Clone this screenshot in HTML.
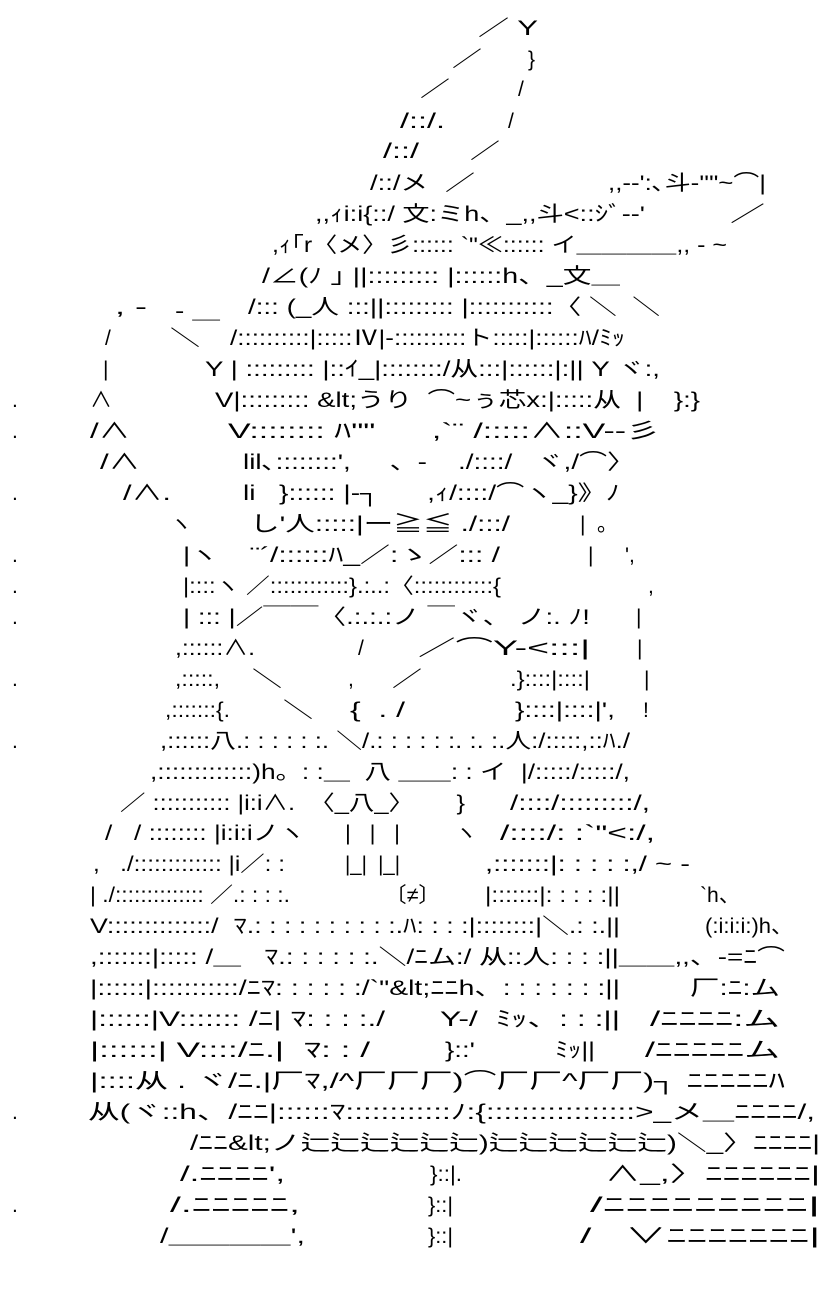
<!DOCTYPE html>
<html><head><meta charset="utf-8"><style>
html,body{margin:0;padding:0;background:#fff;}
svg{display:block}
text{font-family:"Liberation Sans","Noto Sans CJK JP",sans-serif;font-size:21px;fill:#000;white-space:pre;}
</style></head><body>
<svg width="835" height="1291" xmlns="http://www.w3.org/2000/svg" xml:space="preserve">
<g>
<text x="478" y="35" textLength="60" lengthAdjust="spacingAndGlyphs">／ Y</text>
<text x="452" y="66" textLength="30" lengthAdjust="spacingAndGlyphs">／</text>
<text x="528" y="66">}</text>
<text x="420" y="96" textLength="30" lengthAdjust="spacingAndGlyphs">／</text>
<text x="518" y="96">/</text>
<text x="400" y="128" textLength="45" lengthAdjust="spacingAndGlyphs">/::/.</text>
<text x="508" y="128">/</text>
<text x="383" y="158" textLength="36" lengthAdjust="spacingAndGlyphs">/::/</text>
<text x="470" y="158" textLength="30" lengthAdjust="spacingAndGlyphs">／</text>
<text x="370" y="190" textLength="58" lengthAdjust="spacingAndGlyphs">/::/メ</text>
<text x="445" y="190" textLength="30" lengthAdjust="spacingAndGlyphs">／</text>
<text x="608" y="190" textLength="158" lengthAdjust="spacingAndGlyphs">,,-‐':､斗-''"~⌒|</text>
<text x="315" y="221" textLength="330" lengthAdjust="spacingAndGlyphs">,,ｨi:i{::/ 文:ミh、_,,斗&lt;::ｼﾞ-‐'</text>
<text x="730" y="221" textLength="35" lengthAdjust="spacingAndGlyphs">／</text>
<text x="272" y="252" textLength="455" lengthAdjust="spacingAndGlyphs">,ｨ｢r〈メ〉彡:::::: `"≪:::::: イ＿＿＿＿,, - ~</text>
<text x="262" y="283" textLength="358" lengthAdjust="spacingAndGlyphs">/∠(ﾉ ｣ ||::::::::: |::::::h、_文＿</text>
<text x="115" y="314" textLength="32" lengthAdjust="spacingAndGlyphs">, -</text>
<text x="175" y="318" textLength="45" lengthAdjust="spacingAndGlyphs">- ＿</text>
<text x="248" y="314" textLength="412" lengthAdjust="spacingAndGlyphs">/::: (_人 :::||::::::::: |:::::::::::〈 ＼  ＼</text>
<text x="105" y="345">/</text>
<text x="170" y="345" textLength="30" lengthAdjust="spacingAndGlyphs">＼</text>
<text x="230" y="345" textLength="395" lengthAdjust="spacingAndGlyphs">/::::::::::|:::::Ⅳ|-::::::::::ト:::::|::::::ﾊ/ﾐｯ</text>
<text x="103" y="376">|</text>
<text x="205" y="376" textLength="455" lengthAdjust="spacingAndGlyphs">Y | ::::::::: |::ｲ_|::::::::/从:::|::::::|:|| Y ヾ:,</text>
<text x="12" y="407">.</text>
<text x="90" y="407" textLength="22" lengthAdjust="spacingAndGlyphs">∧</text>
<text x="215" y="407" textLength="485" lengthAdjust="spacingAndGlyphs">V|::::::::: &amp;lt;うり  ⌒~ぅ芯x:|:::::从  |    }:}</text>
<text x="12" y="438">.</text>
<text x="90" y="438" textLength="40" lengthAdjust="spacingAndGlyphs">/∧</text>
<text x="228" y="438" textLength="432" lengthAdjust="spacingAndGlyphs">V:::::::: ﾊ""      ,`¨ /:::::∧::V--彡</text>
<text x="100" y="469" textLength="40" lengthAdjust="spacingAndGlyphs">/∧</text>
<text x="243" y="469" textLength="392" lengthAdjust="spacingAndGlyphs">lil､::::::::',     、-    ./::::/   ヾ,/⌒〉</text>
<text x="12" y="500">.</text>
<text x="123" y="500" textLength="48" lengthAdjust="spacingAndGlyphs">/∧.</text>
<text x="243" y="500" textLength="377" lengthAdjust="spacingAndGlyphs">li   }:::::: |-┐      ,ｨ/::::/⌒ヽ_}》ﾉ</text>
<text x="170" y="531" textLength="22" lengthAdjust="spacingAndGlyphs">ヽ</text>
<text x="250" y="531" textLength="260" lengthAdjust="spacingAndGlyphs">し'人:::::|ー≧≦ ./:::/</text>
<text x="580" y="531">|  ｡</text>
<text x="12" y="562">.</text>
<text x="183" y="562" textLength="35" lengthAdjust="spacingAndGlyphs">|ヽ</text>
<text x="250" y="562" textLength="250" lengthAdjust="spacingAndGlyphs">¨´/::::::ﾊ_／:ゝ／::: /</text>
<text x="588" y="562">|</text>
<text x="625" y="562">',</text>
<text x="12" y="593">.</text>
<text x="183" y="593" textLength="318" lengthAdjust="spacingAndGlyphs">|::::ヽ ／::::::::::::}.:..:〈::::::::::::{</text>
<text x="648" y="593">,</text>
<text x="12" y="624">.</text>
<text x="183" y="624" textLength="407" lengthAdjust="spacingAndGlyphs">| ::: |／￣￣〈.:.:.:ノ ￣ヾ、 ノ:. ﾉ!</text>
<text x="636" y="624">|</text>
<text x="175" y="655" textLength="80" lengthAdjust="spacingAndGlyphs">,::::::∧.</text>
<text x="358" y="655">/</text>
<text x="418" y="655" textLength="172" lengthAdjust="spacingAndGlyphs">／⌒Y-&lt;:::|</text>
<text x="637" y="655">|</text>
<text x="12" y="686">.</text>
<text x="175" y="686" textLength="45" lengthAdjust="spacingAndGlyphs">,:::::,</text>
<text x="252" y="686" textLength="30" lengthAdjust="spacingAndGlyphs">＼</text>
<text x="348" y="686">,</text>
<text x="392" y="686" textLength="30" lengthAdjust="spacingAndGlyphs">／</text>
<text x="510" y="686" textLength="80" lengthAdjust="spacingAndGlyphs">.}::::|::::|</text>
<text x="644" y="686">|</text>
<text x="165" y="717" textLength="65" lengthAdjust="spacingAndGlyphs">,:::::::{.</text>
<text x="283" y="717" textLength="30" lengthAdjust="spacingAndGlyphs">＼</text>
<text x="350" y="717" textLength="55" lengthAdjust="spacingAndGlyphs">{  . /</text>
<text x="515" y="717" textLength="100" lengthAdjust="spacingAndGlyphs">}::::|::::|',</text>
<text x="643" y="717">!</text>
<text x="12" y="748">.</text>
<text x="160" y="748" textLength="470" lengthAdjust="spacingAndGlyphs">,::::::八.: : : : : :. ＼/.: : : : : :. :. :.人:/:::::,::ﾊ./</text>
<text x="150" y="779" textLength="480" lengthAdjust="spacingAndGlyphs">,:::::::::::::)h。: :＿  八 ＿＿: : イ  |/:::::/:::::/,</text>
<text x="120" y="810" textLength="345" lengthAdjust="spacingAndGlyphs">／ ::::::::::: |i:i∧.  〈_八_〉      }</text>
<text x="510" y="810" textLength="140" lengthAdjust="spacingAndGlyphs">/::::/:::::::::/,</text>
<text x="105" y="840" textLength="200" lengthAdjust="spacingAndGlyphs">/   / :::::::: |i:i:iノヽ</text>
<text x="345" y="840" textLength="55" lengthAdjust="spacingAndGlyphs">|   |   |</text>
<text x="455" y="840" textLength="22" lengthAdjust="spacingAndGlyphs">ヽ</text>
<text x="500" y="840" textLength="155" lengthAdjust="spacingAndGlyphs">/::::/: :`"&lt;:/,</text>
<text x="93" y="871" textLength="192" lengthAdjust="spacingAndGlyphs">,   ./::::::::::::: |i／: :</text>
<text x="345" y="871" textLength="55" lengthAdjust="spacingAndGlyphs">|_|  |_|</text>
<text x="485" y="871" textLength="205" lengthAdjust="spacingAndGlyphs">,:::::::|: : : : :,/ ~ -</text>
<text x="90" y="902" textLength="200" lengthAdjust="spacingAndGlyphs">| ./:::::::::::::: ／.: : : :.</text>
<text x="385" y="902" textLength="55" lengthAdjust="spacingAndGlyphs">〔≠〕</text>
<text x="485" y="902" textLength="135" lengthAdjust="spacingAndGlyphs">|:::::::|: : : : :||</text>
<text x="700" y="902" textLength="40" lengthAdjust="spacingAndGlyphs">`h、</text>
<text x="90" y="933" textLength="530" lengthAdjust="spacingAndGlyphs">V::::::::::::::/  ﾏ.: : : : : : : : : :.ﾊ: : : :|::::::::|＼.: :.||</text>
<text x="705" y="933" textLength="88" lengthAdjust="spacingAndGlyphs">(:i:i:i:)h、</text>
<text x="90" y="964" textLength="695" lengthAdjust="spacingAndGlyphs">,:::::::|::::: /＿   ﾏ.: : : : : :.＼/ﾆム:/ 从::人: : : :||＿＿,,、-=ﾆ⌒</text>
<text x="90" y="995" textLength="530" lengthAdjust="spacingAndGlyphs">|::::::|:::::::::::/ﾆﾏ: : : : : :/`"&amp;lt;ﾆﾆh、: : : : : : :||</text>
<text x="690" y="995" textLength="90" lengthAdjust="spacingAndGlyphs">厂:ﾆ:ム</text>
<text x="90" y="1026" textLength="295" lengthAdjust="spacingAndGlyphs">|::::::|V::::::: /ﾆ| ﾏ: : : :./</text>
<text x="440" y="1026" textLength="180" lengthAdjust="spacingAndGlyphs">Y-/  ﾐｯ、: : :||</text>
<text x="650" y="1026" textLength="130" lengthAdjust="spacingAndGlyphs">/ﾆﾆﾆﾆ:ム</text>
<text x="90" y="1057" textLength="280" lengthAdjust="spacingAndGlyphs">|::::::| V::::/ﾆ.|  ﾏ: : /</text>
<text x="445" y="1057" textLength="30" lengthAdjust="spacingAndGlyphs">}::'</text>
<text x="555" y="1057" textLength="40" lengthAdjust="spacingAndGlyphs">ﾐｯ||</text>
<text x="645" y="1057" textLength="135" lengthAdjust="spacingAndGlyphs">/ﾆﾆﾆﾆﾆム</text>
<text x="90" y="1088" textLength="695" lengthAdjust="spacingAndGlyphs">|::::从 . ヾ/ﾆ.|厂ﾏ,/^厂厂厂)⌒厂厂^厂厂)┐ ﾆﾆﾆﾆﾆﾊ</text>
<text x="12" y="1119">.</text>
<text x="88" y="1119" textLength="727" lengthAdjust="spacingAndGlyphs">从(ヾ::h、/ﾆﾆ|::::::ﾏ::::::::::::ﾉ:{:::::::::::::::::&gt;_メ＿ﾆﾆﾆﾆ/,</text>
<text x="190" y="1150" textLength="630" lengthAdjust="spacingAndGlyphs">/ﾆﾆ&amp;lt;ノ辷辷辷辷辷辷)辷辷辷辷辷辷)＼_〉ﾆﾆﾆﾆ|</text>
<text x="180" y="1181" textLength="105" lengthAdjust="spacingAndGlyphs">/.ﾆﾆﾆﾆ',</text>
<text x="430" y="1181" textLength="32" lengthAdjust="spacingAndGlyphs">}::|.</text>
<text x="605" y="1181" textLength="215" lengthAdjust="spacingAndGlyphs">∧_,〉ﾆﾆﾆﾆﾆﾆ|</text>
<text x="12" y="1212">.</text>
<text x="170" y="1212" textLength="130" lengthAdjust="spacingAndGlyphs">/.ﾆﾆﾆﾆﾆ,</text>
<text x="428" y="1212" textLength="25" lengthAdjust="spacingAndGlyphs">}::|</text>
<text x="590" y="1212" textLength="230" lengthAdjust="spacingAndGlyphs">/ﾆﾆﾆﾆﾆﾆﾆﾆﾆ|</text>
<text x="160" y="1243" textLength="145" lengthAdjust="spacingAndGlyphs">/＿＿＿＿',</text>
<text x="428" y="1243" textLength="25" lengthAdjust="spacingAndGlyphs">}::|</text>
<text x="580" y="1243" textLength="240" lengthAdjust="spacingAndGlyphs">/   ∨ﾆﾆﾆﾆﾆﾆﾆ|</text>
</g>
</svg>
</body></html>
